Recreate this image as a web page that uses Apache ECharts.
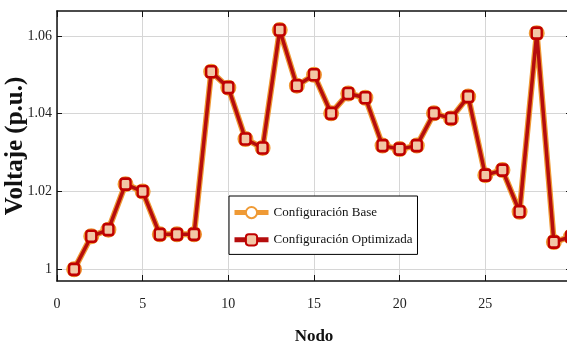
<!DOCTYPE html>
<html>
<head>
<meta charset="utf-8">
<script src="https://cdn.jsdelivr.net/npm/echarts@6/dist/echarts.min.js"></script>
<style>
html,body{margin:0;padding:0;background:#fff;}
#c{width:567px;height:347px;}
</style>
</head>
<body>
<div id="c"></div>
<script>
var nodes = [1,2,3,4,5,6,7,8,9,10,11,12,13,14,15,16,17,18,19,20,21,22,23,24,25,26,27,28,29,30];
var baseValues = [1.0000,1.0085,1.0102,1.0219,1.0200,1.0090,1.0090,1.0090,1.0508,1.0467,1.0335,1.0312,1.0615,1.0472,1.0500,1.0401,1.0452,1.0441,1.0318,1.0309,1.0318,1.0401,1.0388,1.0444,1.0242,1.0255,1.0148,1.0607,1.0070,1.0084];
var optValues  = [1.0000,1.0085,1.0102,1.0219,1.0200,1.0090,1.0090,1.0090,1.0508,1.0467,1.0335,1.0312,1.0615,1.0472,1.0500,1.0401,1.0452,1.0441,1.0318,1.0309,1.0318,1.0401,1.0388,1.0444,1.0242,1.0255,1.0148,1.0607,1.0070,1.0084];
var yTicks = [1, 1.02, 1.04, 1.06];
var seriesNames = ['Configuración Base', 'Configuración Optimizada'];
var xTitle = 'Nodo';
var yTitle = 'Voltaje (p.u.)';

function pairs(vals){ return nodes.map(function(n,i){ return [n, vals[i]]; }); }

var FONT = 'Liberation Serif';
var chart = echarts.init(document.getElementById('c'), null, {renderer:'canvas'});
var yMin = 0.997, yMax = 1.0664;
chart.setOption({
  animation:false,
  backgroundColor:'#fff',
  grid:{left:57, top:11, right:-4, bottom:66, containLabel:false, outerBoundsMode:'none'},
  legend:{
    orient:'vertical', left:229, top:196,
    padding:[10,5,8,3], itemGap:14, itemWidth:34, itemHeight:14,
    backgroundColor:'#fff', borderColor:'#000', borderWidth:1,
    textStyle:{fontFamily:FONT, fontSize:13, color:'#111'},
    lineStyle:{width:5},
    data:seriesNames
  },
  xAxis:[{
    type:'value', min:0, max:30, interval:5, position:'bottom',
    name:xTitle, nameLocation:'middle', nameGap:47, nameMoveOverlap:false,
    nameTextStyle:{fontFamily:FONT, fontSize:17, fontWeight:'bold', color:'#111'},
    axisLine:{show:true, onZero:false, lineStyle:{color:'#111', width:1.5}},
    axisTick:{show:true, inside:true, length:6, lineStyle:{color:'#111', width:1}},
    axisLabel:{fontFamily:FONT, fontSize:14, color:'#222', margin:16, showMaxLabel:false},
    splitLine:{show:true, lineStyle:{color:'#d6d6d6', width:1}}
  },{
    type:'value', min:0, max:30, interval:5, position:'top',
    axisLine:{show:true, onZero:false, lineStyle:{color:'#111', width:1.5}},
    axisTick:{show:true, inside:true, length:6, lineStyle:{color:'#111', width:1}},
    axisLabel:{show:false}, splitLine:{show:false}
  }],
  yAxis:[{
    type:'value', min:yMin, max:yMax, position:'left',
    name:yTitle, nameLocation:'middle', nameGap:29, nameRotate:90, nameMoveOverlap:false,
    nameTextStyle:{fontFamily:FONT, fontSize:25, fontWeight:'bold', color:'#111'},
    axisLine:{show:true, onZero:false, lineStyle:{color:'#111', width:1.5}},
    axisTick:{show:true, inside:true, length:5, customValues:yTicks, lineStyle:{color:'#111', width:1}},
    axisLabel:{fontFamily:FONT, fontSize:14, color:'#222', margin:5, customValues:yTicks},
    splitLine:{show:true, lineStyle:{color:'#d6d6d6', width:1}}
  },{
    type:'value', min:yMin, max:yMax, position:'right',
    axisLine:{show:true, onZero:false, lineStyle:{color:'#111', width:1.5}},
    axisTick:{show:true, inside:true, length:5, customValues:yTicks, lineStyle:{color:'#111', width:1}},
    axisLabel:{show:false, customValues:yTicks}, splitLine:{show:false}
  }],
  series:[{
    name:seriesNames[0], type:'line', xAxisIndex:0, yAxisIndex:0,
    data:pairs(baseValues),
    symbol:'circle', symbolSize:13, showAllSymbol:true,
    lineStyle:{color:'#EF9A35', width:6},
    itemStyle:{color:'#fff', borderColor:'#EF9A35', borderWidth:3},
    z:2
  },{
    name:seriesNames[1], type:'line', xAxisIndex:0, yAxisIndex:0,
    data:pairs(optValues),
    symbol:'roundRect', symbolSize:[10,11], showAllSymbol:true,
    lineStyle:{color:'#B50D0D', width:3.5},
    itemStyle:{color:'#F2C7A6', borderColor:'#C00000', borderWidth:2.5},
    z:3
  }]
});
</script>
</body>
</html>
